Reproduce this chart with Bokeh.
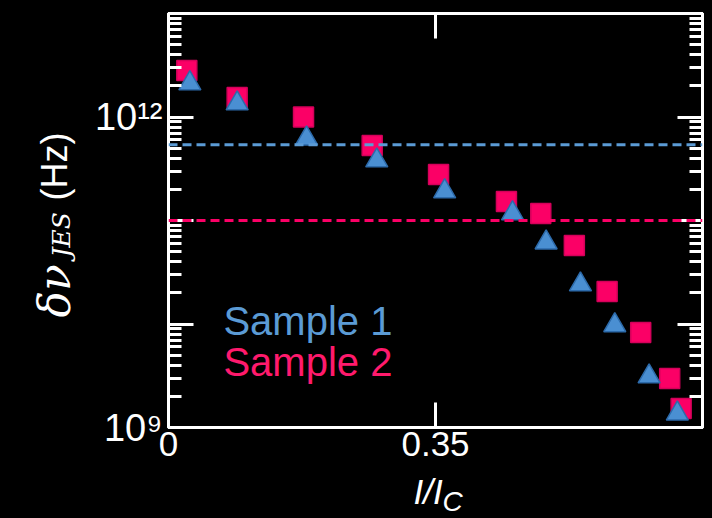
import math
from bokeh.plotting import figure
from bokeh.layouts import row, column
from bokeh.models import (Range1d, LogAxis, LinearAxis, LogTicker, FixedTicker,
                          CustomJSTickFormatter, Span, Label)
from bokeh.embed import file_html
from bokeh.resources import INLINE

# ---------------- data ----------------
s1_x = [0.028, 0.090, 0.181, 0.273, 0.362, 0.451, 0.495, 0.540, 0.585, 0.630, 0.667]
s1_y = [2.11e12, 1.35e12, 6.19e11, 3.80e11, 1.91e11, 1.17e11, 6.12e10, 2.41e10, 9.7e9, 3.11e9, 1.36e9]
s2_x = [0.024, 0.090, 0.177, 0.267, 0.354, 0.443, 0.488, 0.532, 0.575, 0.619, 0.657, 0.672]
s2_y = [2.81e12, 1.54e12, 1.0e12, 5.31e11, 2.78e11, 1.53e11, 1.17e11, 5.73e10, 2.06e10, 8.28e9, 2.97e9, 1.53e9]
s1_limit = 5.4e11
s2_limit = 1.0e11
series_names = ["Sample 1", "Sample 2"]
x_ticks = [0, 0.35, 0.7]
x_tick_labels = ["0", "0.35", ""]
y_major_ticks = [1e9, 1e10, 1e11, 1e12, 1e13]
y_tick_labels = {1e9: "10⁹", 1e12: "10¹²"}
x_min, x_max = 0.0, 0.7
y_min, y_max = 1e9, 1e13

BLUE_FILL = "#4a8fd2"
BLUE_EDGE = "#2c6aaa"
BLUE_TEXT = "#5b9bd5"
PINK_FILL = "#fb0066"
PINK_EDGE = "#d4005a"
PINK_TEXT = "#ff1a6c"
WHITE = "#ffffff"
SANS = "Liberation Sans"
BLACK_BG = {"background-color": "black"}

LEFT_W, TOTAL_W, TOTAL_H, BOTTOM_H = 80, 712, 518, 48
MAIN_W, MAIN_H = TOTAL_W - LEFT_W, TOTAL_H - BOTTOM_H
BASE_FIX = 0.25  # baseline correction (fraction of font size)

# ---------------- main plot ----------------
p = figure(width=MAIN_W, height=MAIN_H, output_backend="svg", toolbar_location=None,
           title=None, x_range=Range1d(x_min, x_max), y_range=Range1d(y_min, y_max),
           y_axis_type="log", x_axis_location=None, y_axis_location=None,
           background_fill_color="black", border_fill_color="black",
           min_border_left=88, min_border_right=10, min_border_top=13,
           min_border_bottom=MAIN_H - 427, styles=BLACK_BG)
p.outline_line_color = WHITE
p.outline_line_width = 3
p.xgrid.visible = False
p.ygrid.visible = False

empty_fmt = CustomJSTickFormatter(code="return ''")


def style_axis(ax, with_minor):
    ax.axis_line_color = WHITE
    ax.axis_line_width = 3
    ax.major_tick_line_color = WHITE
    ax.major_tick_line_width = 3
    ax.major_tick_in = 25
    ax.major_tick_out = 0
    ax.minor_tick_line_color = WHITE if with_minor else None
    ax.minor_tick_line_width = 3
    ax.minor_tick_in = 13
    ax.minor_tick_out = 0


# left y axis: labels only at 10^9 and 10^12
yl = LogAxis(ticker=LogTicker(num_minor_ticks=10),
             major_label_overrides={t: y_tick_labels.get(t, "") for t in y_major_ticks},
             major_label_standoff=6)
style_axis(yl, True)
yl.major_label_text_color = WHITE
yl.major_label_text_font = SANS
yl.major_label_text_font_size = "38px"
p.add_layout(yl, "left")

yr = LogAxis(ticker=LogTicker(num_minor_ticks=10), formatter=empty_fmt, major_label_standoff=0,
             major_label_text_font_size="0px")
style_axis(yr, True)
p.add_layout(yr, "right")

# x axes
xb = LinearAxis(ticker=FixedTicker(ticks=x_ticks, minor_ticks=[]),
                major_label_overrides={t: s for t, s in zip(x_ticks, x_tick_labels)},
                major_label_standoff=4)
style_axis(xb, False)
xb.major_label_text_color = WHITE
xb.major_label_text_font = SANS
xb.major_label_text_font_size = "35px"
p.add_layout(xb, "below")

xt = LinearAxis(ticker=FixedTicker(ticks=x_ticks, minor_ticks=[]), formatter=empty_fmt,
                major_label_standoff=0, major_label_text_font_size="0px")
style_axis(xt, False)
p.add_layout(xt, "above")

# threshold lines
p.add_layout(Span(location=s1_limit, dimension="width", line_color=BLUE_TEXT,
                  line_width=3, line_dash="9 5"))
p.add_layout(Span(location=s2_limit, dimension="width", line_color=PINK_FILL,
                  line_width=3, line_dash="9 5"))

# data markers
p.scatter(s2_x, s2_y, marker="square", size=20, fill_color=PINK_FILL,
          line_color=PINK_EDGE, line_width=1.5)
p.scatter(s1_x, s1_y, marker="triangle", size=22, fill_color=BLUE_FILL,
          line_color=BLUE_EDGE, line_width=1.5)

# legend texts
for name, col, off in zip(series_names, [BLUE_TEXT, PINK_TEXT], [0, -41]):
    p.add_layout(Label(x=0.072, y=8.65e9, y_offset=off + BASE_FIX * 40, text=name,
                       text_align="left", text_baseline="alphabetic", text_font=SANS,
                       text_font_size="40px", text_color=col))

# ---------------- y axis title panel (pixel coordinates) ----------------
lf = figure(width=LEFT_W, height=TOTAL_H, output_backend="svg", toolbar_location=None,
            title=None, x_range=Range1d(0, LEFT_W), y_range=Range1d(TOTAL_H, 0),
            x_axis_location=None, y_axis_location=None,
            background_fill_color="black", border_fill_color="black",
            min_border_left=0, min_border_right=0, min_border_top=0, min_border_bottom=0,
            styles=BLACK_BG)
lf.outline_line_color = None
lf.xgrid.visible = False
lf.ygrid.visible = False
rot = math.pi / 2
for txt, bx, sy, font, style, fs in [("δν", 65, 317, "DejaVu Serif", "italic", 44),
                                     ("JES", 67, 257, "DejaVu Serif", "italic", 25),
                                     ("(Hz)", 63, 200, SANS, "normal", 36)]:
    lf.add_layout(Label(x=bx - BASE_FIX * fs, y=sy, text=txt, angle=rot, text_align="left",
                        text_baseline="alphabetic", text_font=font,
                        text_font_style=style, text_font_size=f"{fs}px", text_color=WHITE))

# ---------------- x axis title panel ----------------
bf = figure(width=MAIN_W, height=BOTTOM_H, output_backend="svg", toolbar_location=None,
            title=None, x_range=p.x_range, y_range=Range1d(0, BOTTOM_H),
            x_axis_location=None, y_axis_location=None,
            background_fill_color="black", border_fill_color="black",
            min_border_left=88, min_border_right=10, min_border_top=0, min_border_bottom=0,
            styles=BLACK_BG)
bf.outline_line_color = None
bf.xgrid.visible = False
bf.ygrid.visible = False
x_mid = (x_min + x_max) / 2
bf.add_layout(Label(x=x_mid, y=18 + BASE_FIX * 35, x_offset=-22, text="I/I", text_align="left",
                    text_baseline="alphabetic", text_font=SANS, text_font_style="italic",
                    text_font_size="35px", text_color=WHITE))
bf.add_layout(Label(x=x_mid, y=10 + BASE_FIX * 28, x_offset=7, text="C", text_align="left",
                    text_baseline="alphabetic", text_font=SANS, text_font_style="italic",
                    text_font_size="28px", text_color=WHITE))

layout = row(lf, column(p, bf, spacing=0, styles=BLACK_BG), spacing=0, styles=BLACK_BG)
open("out.html", "w").write(file_html(layout, INLINE))
